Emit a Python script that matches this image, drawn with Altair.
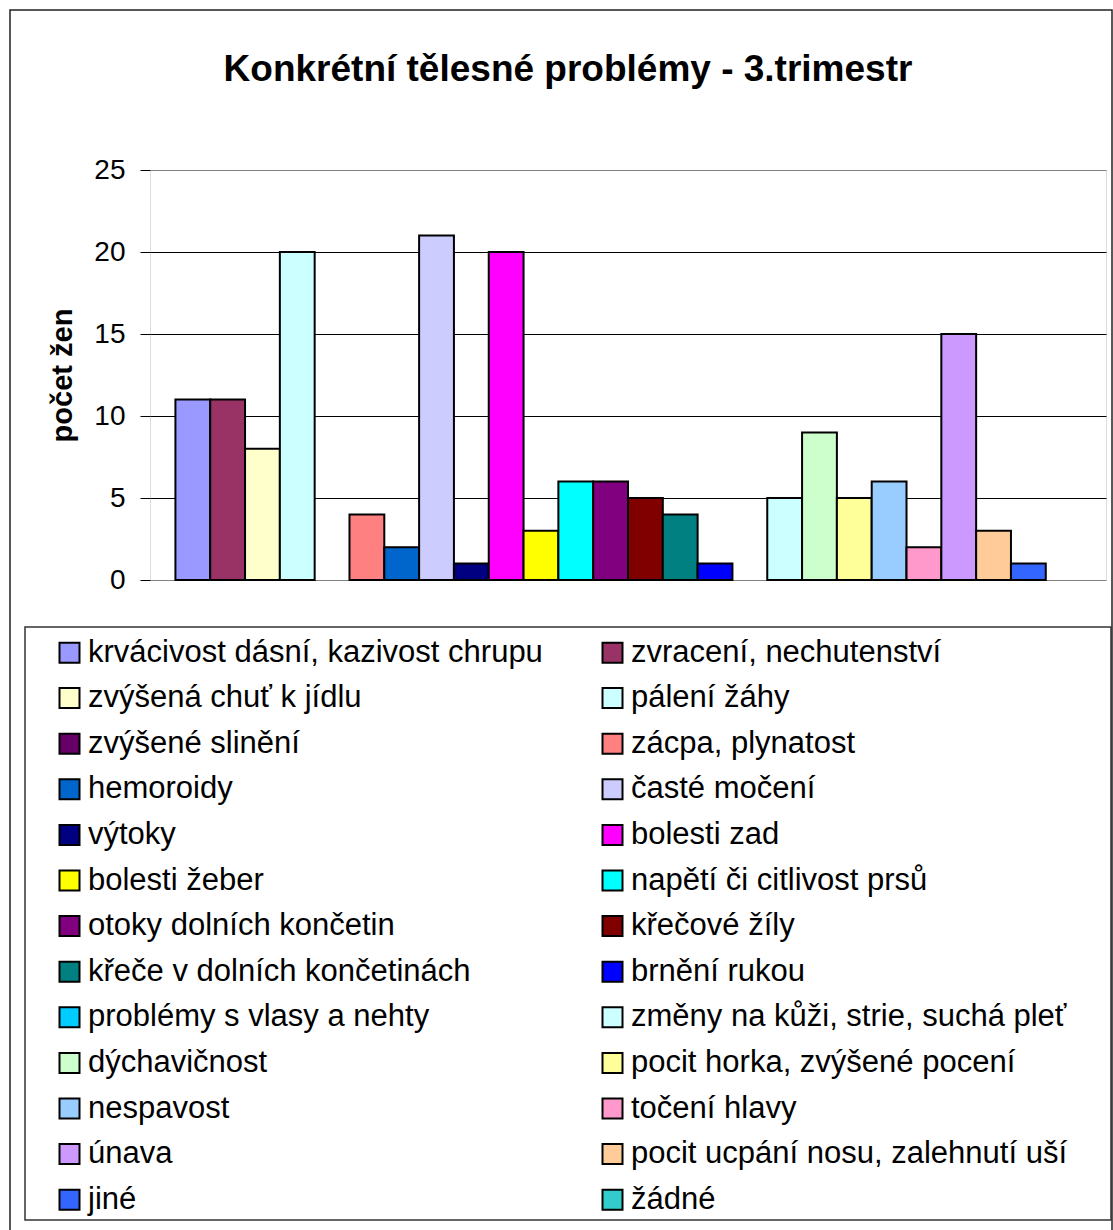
import altair as alt
import pandas as pd

chart_title = "Konkrétní tělesné problémy - 3.trimestr"
y_title = "počet žen"

series = [
    "krvácivost dásní, kazivost chrupu",
    "zvracení, nechutenství",
    "zvýšená chuť k jídlu",
    "pálení žáhy",
    "zvýšené slinění",
    "zácpa, plynatost",
    "hemoroidy",
    "časté močení",
    "výtoky",
    "bolesti zad",
    "bolesti žeber",
    "napětí či citlivost prsů",
    "otoky dolních končetin",
    "křečové žíly",
    "křeče v dolních končetinách",
    "brnění rukou",
    "problémy s vlasy a nehty",
    "změny na kůži, strie, suchá pleť",
    "dýchavičnost",
    "pocit horka, zvýšené pocení",
    "nespavost",
    "točení hlavy",
    "únava",
    "pocit ucpání nosu, zalehnutí uší",
    "jiné",
    "žádné",
]
values = [11, 11, 8, 20, 0, 4, 2, 21, 1, 20, 3, 6, 6, 5, 4, 1, 0, 5, 9, 5, 6, 2, 15, 3, 1, 0]
colors = [
    "#9999FF", "#993366", "#FFFFCC", "#CCFFFF", "#660066", "#FF8080", "#0066CC",
    "#CCCCFF", "#000080", "#FF00FF", "#FFFF00", "#00FFFF", "#800080", "#800000",
    "#008080", "#0000FF", "#00CCFF", "#CCFFFF", "#CCFFCC", "#FFFF99", "#99CCFF",
    "#FF99CC", "#CC99FF", "#FFCC99", "#3366FF", "#33CCCC",
]
y_ticks = [0, 5, 10, 15, 20, 25]

df = pd.DataFrame({"series": series, "value": values})

W, H = 956, 410
FONT = "Liberation Sans"

bars = alt.Chart(df).transform_filter("datum.value > 0").mark_bar(
    stroke="black", strokeWidth=2
).encode(
    x=alt.X("series:N", scale=alt.Scale(domain=series, paddingInner=0, paddingOuter=0.73), axis=None),
    y=alt.Y(
        "value:Q",
        scale=alt.Scale(domain=[0, 25], nice=False),
        axis=alt.Axis(
            values=y_ticks,
            title=y_title,
            titleFont=FONT,
            titleFontSize=29,
            titleFontWeight="bold",
            titleColor="black",
            titleX=-73,
            titleY=H / 2,
            titleAlign="center",
            labelFont=FONT,
            labelFontSize=28,
            labelColor="black",
            labelPadding=15,
            tickSize=10,
            tickColor="black",
            tickWidth=1,
            domain=False,
            grid=True,
            gridColor=alt.condition("datum.value == 0 || datum.value == 25", alt.value("#808080"), alt.value("black")),
            gridWidth=1,
        ),
    ),
    color=alt.Color(
        "series:N",
        scale=alt.Scale(domain=series, range=colors),
        legend=alt.Legend(
            title=None,
            orient="none",
            legendX=-96,
            legendY=467,
            columns=2,
            direction="horizontal",
            symbolType="square",
            symbolSize=400,
            symbolStrokeColor="black",
            symbolStrokeWidth=2,
            symbolOpacity=1,
            labelFont=FONT,
            labelFontSize=31,
            labelColor="black",
            labelOffset=3,
            labelLimit=1000,
            rowPadding=13.6,
            columnPadding=54,
            padding=0,
        ),
    ),
)

one = pd.DataFrame({"t": [chart_title]})

title_text = alt.Chart(one).mark_text(
    font=FONT, fontSize=37, fontWeight="bold", align="center", baseline="alphabetic", color="black"
).encode(text="t:N", x=alt.value(418), y=alt.value(-89))

outer_border = alt.Chart(one).mark_rect(fill="transparent", stroke="#222222", strokeWidth=1.5).encode(
    x=alt.value(-140), x2=alt.value(962), y=alt.value(-160), y2=alt.value(1080)
)

legend_box = alt.Chart(one).mark_rect(fill="transparent", stroke="#333333", strokeWidth=1.5).encode(
    x=alt.value(-125), x2=alt.value(961), y=alt.value(457), y2=alt.value(1050)
)

chart = alt.layer(bars, title_text, outer_border, legend_box).properties(
    width=W,
    height=H,
    padding={"left": 150, "top": 170, "right": 7, "bottom": 650},
    autosize=alt.AutoSizeParams(type="none"),
).configure_view(
    fill="#C0C0C0", stroke="#808080", strokeWidth=2
).configure(background="white")

chart.save("out.html", embed_options={"renderer": "svg", "actions": False})
